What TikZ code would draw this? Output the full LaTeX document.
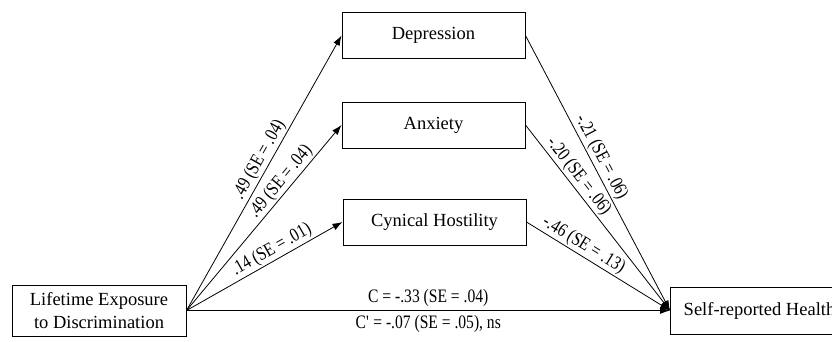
\documentclass[tikz,border=0pt]{standalone}
\usepackage{fontspec}
\setmainfont{Liberation Serif}
\newfontfamily\coeffont[FakeStretch=0.82]{Liberation Serif}
\usetikzlibrary{arrows.meta}
\tikzset{
  box/.style={draw,line width=1pt,minimum width=183pt,minimum height=46pt,inner sep=0pt,
    align=center,font=\fontsize{18.5}{22.5}\selectfont},
  link/.style={-{Latex[length=10pt,width=7pt]},line width=0.8pt},
  coef/.style={sloped,above,inner sep=1.5pt,font=\coeffont\fontsize{19}{22}\selectfont}
}
\begin{document}
\begin{tikzpicture}[x=1pt,y=1pt]
\useasboundingbox (0,0) rectangle (832,341);
% variables
\node[box,minimum width=174pt,minimum height=51pt] (expo) at (99,30.5) {Lifetime Exposure\\to Discrimination};
\node[box] (depr) at (433.5,305.5) {Depression};
\node[box] (anx) at (433.5,216) {Anxiety};
\node[box] (host) at (434.5,119) {Cynical Hostility};
\node[box,minimum width=178pt,minimum height=47pt,anchor=west] (health) at (670,30.5) {Self-reported Health};
% a paths
\draw[link] (expo.east) -- node[coef,pos=0.53] {.49 (SE = .04)} (depr.west);
\draw[link] (expo.east) -- node[coef,pos=0.66] {.49 (SE = .04)} (anx.west);
\draw[link] (expo.east) -- node[coef,pos=0.58] {.14 (SE = .01)} (host.west);
% b paths
\draw[link] (depr.east) -- node[coef,pos=0.46] {-.21 (SE = .06)} (health.west);
\draw[link] (anx.east) -- node[coef,pos=0.31] {-.20 (SE = .06)} (health.west);
\draw[link] (host.east) -- node[coef,pos=0.36] {-.46 (SE = .13)} (health.west);
% c path
\draw[link] (expo.east) -- node[coef,inner sep=4pt] {C = -.33 (SE = .04)}
  node[coef,below,inner sep=4pt] {C\textquotesingle{} = -.07 (SE = .05), ns} (health.west);
\end{tikzpicture}
\end{document}
